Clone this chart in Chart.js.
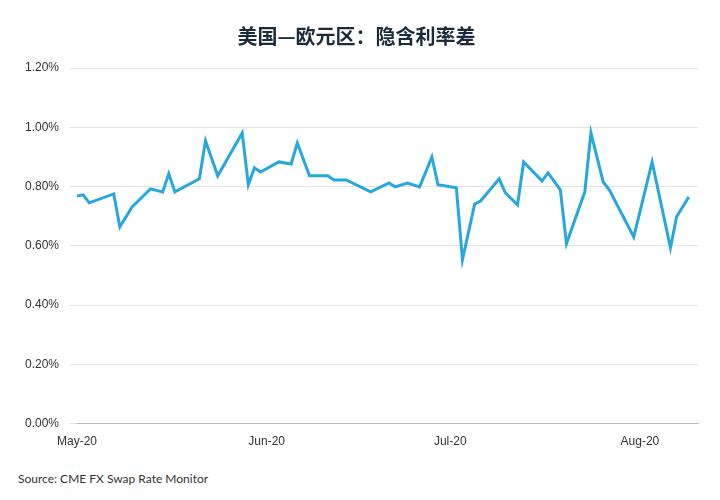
<!DOCTYPE html>
<html>
<head>
<meta charset="utf-8">
<script src="https://cdn.jsdelivr.net/npm/chart.js@4"></script>
<style>
  body { margin: 0; background: #fff; font-family: Lato, "Noto Sans CJK SC", sans-serif; }
  #wrap { position: relative; width: 720px; height: 500px; }
  #src { position: absolute; left: 18px; top: 471px; font-size: 12px; color: #333; }
</style>
</head>
<body>
<div id="wrap">
  <canvas id="chart" width="720" height="452"></canvas>
  <div id="src">Source: CME FX Swap Rate Monitor</div>
</div>
<script>
// days counted from 1 May 2020
const days = [0, 1, 2, 6, 7, 9, 12, 14, 15, 16, 20, 21, 23, 27, 28, 29, 30, 33, 35, 36, 38, 41, 42, 44, 48, 51, 52, 54, 56, 58, 59, 62, 63, 65, 66, 69, 70, 72, 73, 76, 77, 79, 80, 83, 84, 86, 87, 91, 94, 97, 98, 100];
const spread = [0.768, 0.772, 0.745, 0.775, 0.664, 0.731, 0.792, 0.782, 0.843, 0.782, 0.826, 0.954, 0.836, 0.981, 0.806, 0.863, 0.849, 0.883, 0.876, 0.947, 0.836, 0.836, 0.822, 0.822, 0.782, 0.812, 0.799, 0.812, 0.799, 0.900, 0.806, 0.796, 0.553, 0.741, 0.752, 0.826, 0.779, 0.738, 0.883, 0.819, 0.846, 0.789, 0.607, 0.782, 0.981, 0.816, 0.789, 0.630, 0.883, 0.593, 0.698, 0.765];
const monthDays = [0, 31, 61, 92];
const monthLabels = ['May-20', 'Jun-20', 'Jul-20', 'Aug-20'];

const points = days.map((d, i) => ({ x: d, y: spread[i] }));

new Chart(document.getElementById('chart'), {
  type: 'line',
  data: {
    datasets: [{
      data: points,
      borderColor: '#27a7e1',
      borderWidth: 3,
      pointRadius: 0,
      tension: 0
    }]
  },
  options: {
    responsive: false,
    animation: false,
    layout: { padding: { left: 15, right: 22, top: 14, bottom: 0 } },
    plugins: {
      legend: { display: false },
      title: {
        display: true,
        text: '美国—欧元区：隐含利率差',
        color: '#1a2b3c',
        font: { size: 20, weight: 'bold', family: '"Noto Sans CJK SC", sans-serif' },
        padding: { top: 10, bottom: 20 }
      }
    },
    scales: {
      x: {
        type: 'linear',
        min: 0,
        max: 101.5,
        afterBuildTicks: axis => { axis.ticks = monthDays.map(v => ({ value: v })); },
        ticks: {
          color: '#333',
          font: { size: 12 },
          maxRotation: 0,
          callback: v => monthLabels[monthDays.indexOf(v)]
        },
        grid: { display: false },
        border: { color: '#bbb' }
      },
      y: {
        min: 0,
        max: 1.2,
        ticks: {
          stepSize: 0.2,
          color: '#333',
          font: { size: 12 },
          padding: 10,
          callback: v => v.toFixed(2) + '%'
        },
        grid: { color: '#e3e3e3' },
        border: { display: false }
      }
    }
  }
});
</script>
</body>
</html>
